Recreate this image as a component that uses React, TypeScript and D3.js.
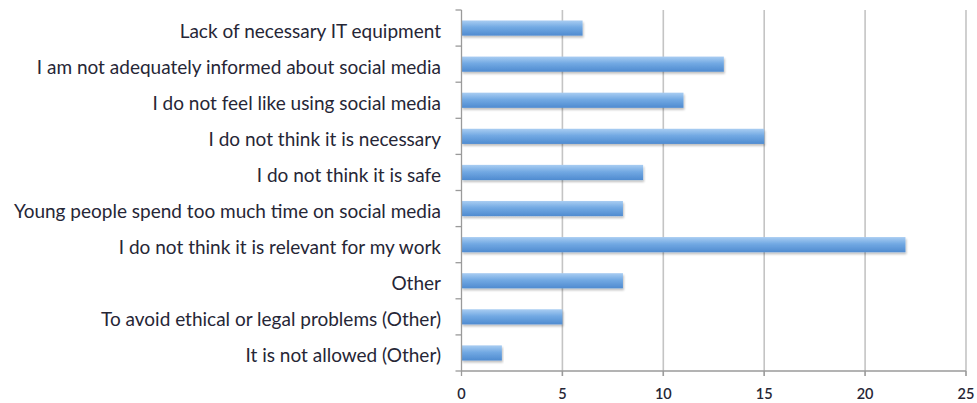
import React from "react";
import * as d3 from "d3";

const categories = [
  "Lack of necessary IT equipment",
  "I am not adequately informed about social media",
  "I do not feel like using social media",
  "I do not think it is necessary",
  "I do not think it is safe",
  "Young people spend too much time on social media",
  "I do not think it is relevant for my work",
  "Other",
  "To avoid ethical or legal problems (Other)",
  "It is not allowed (Other)",
];
const values = [6, 13, 11, 15, 9, 8, 22, 8, 5, 2];
const xTicks = [0, 5, 10, 15, 20, 25];

const W = 977;
const H = 403;
const left = 461.5;
const right = 966;
const top = 10;
const bottom = 371;

export default function App() {
  const x = d3.scaleLinear().domain([0, 25]).range([left, right]);
  const y = d3.scaleBand<string>().domain(categories).range([top, bottom]).paddingInner(0.58).paddingOuter(0.29);
  const step = y.step();
  const font = "Lato, 'Open Sans', sans-serif";
  return (
    <svg width={W} height={H} style={{ position: "absolute", left: 0, top: 0, background: "#fff" }}>
      <defs>
        <linearGradient id="barg" x1="0" y1="0" x2="0" y2="1">
          <stop offset="0" stopColor="#a9cdf2" />
          <stop offset="0.45" stopColor="#72a9e3" />
          <stop offset="1" stopColor="#4f8bd0" />
        </linearGradient>
        <filter id="sh" x="-5%" y="-20%" width="110%" height="160%">
          <feGaussianBlur in="SourceAlpha" stdDeviation="1" />
          <feOffset dx="1" dy="1.5" result="b" />
          <feComponentTransfer><feFuncA type="linear" slope="0.25" /></feComponentTransfer>
          <feMerge><feMergeNode /><feMergeNode in="SourceGraphic" /></feMerge>
        </filter>
      </defs>
      {xTicks.filter((t) => t > 0).map((t) => (
        <line key={"g" + t} x1={x(t)} x2={x(t)} y1={top} y2={bottom + 5} stroke="#c4c4c4" strokeWidth={1.6} />
      ))}
      {categories.map((c, i) => (
        <rect key={c} x={x(0)} y={y(c)} width={x(values[i]) - x(0)} height={y.bandwidth()} fill="url(#barg)" filter="url(#sh)" />
      ))}
      <line x1={left} x2={left} y1={top} y2={bottom} stroke="#9a9a9a" strokeWidth={1.3} />
      <line x1={left} x2={right} y1={bottom} y2={bottom} stroke="#9a9a9a" strokeWidth={1.3} />
      {d3.range(categories.length + 1).map((i) => (
        <line key={"yt" + i} x1={left - 6} x2={left} y1={top + i * step} y2={top + i * step} stroke="#9a9a9a" strokeWidth={1.3} />
      ))}
      {xTicks.map((t) => (
        <line key={"xt" + t} x1={x(t)} x2={x(t)} y1={bottom} y2={bottom + 5} stroke="#9a9a9a" strokeWidth={1.3} />
      ))}
      {categories.map((c) => (
        <text key={"l" + c} x={441} y={(y(c) as number) + y.bandwidth() / 2 + 2} textAnchor="end" dominantBaseline="central"
          fontFamily={font} fontSize={19} fill="#262636">{c}</text>
      ))}
      {xTicks.map((t) => (
        <text key={"xl" + t} x={x(t)} y={393} textAnchor="middle" dominantBaseline="central"
          fontFamily={font} fontSize={14.5} fontWeight={600} fill="#262636">{t}</text>
      ))}
    </svg>
  );
}
